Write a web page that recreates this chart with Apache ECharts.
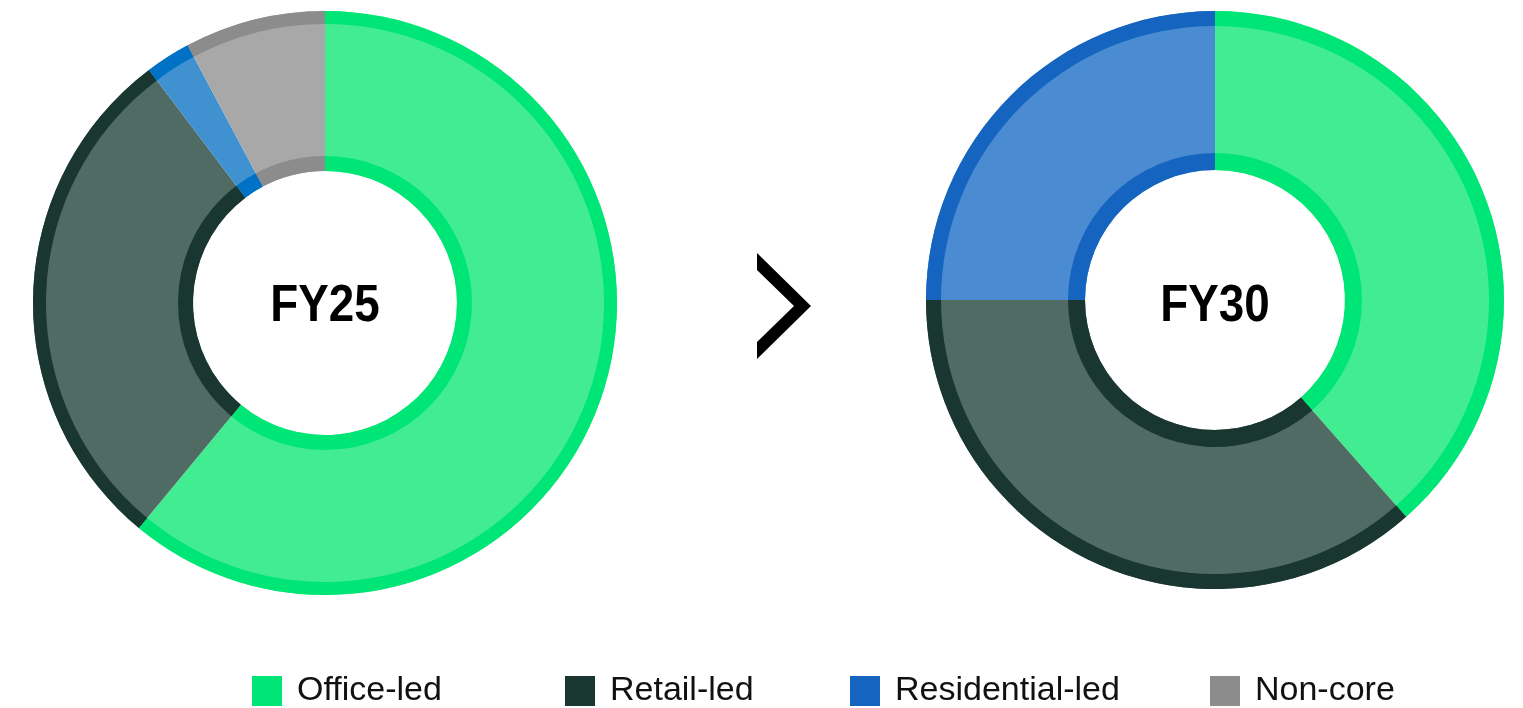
<!DOCTYPE html>
<html>
<head>
<meta charset="utf-8">
<script src="https://cdn.jsdelivr.net/npm/echarts@6/dist/echarts.min.js"></script>
<style>
html,body{margin:0;padding:0;background:#fff;}
#chart{width:1523px;height:708px;}
</style>
</head>
<body>
<div id="chart"></div>
<script>
// ---- data ----
const categories = ['Office-led', 'Retail-led', 'Residential-led', 'Non-core'];
const fy25Values = [61.0, 28.7, 2.5, 7.8];
const fy30Values = [38.5, 36.5, 25.0, 0];
const chartTitles = ['FY25', 'FY30'];

// ---- styles ----
const borderColors = ['#00E676', '#1A3631', '#0072C6', '#8C8C8C'];
const fillColorsL = ['#42ED92', '#4F6B63', '#3F91D0', '#A8A8A8'];
const borderColorsR = ['#00E676', '#1A3631', '#1565C0', '#8C8C8C'];
const fillColorsR = ['#42ED92', '#4F6B63', '#4A8BD1', '#A8A8A8'];
const legendColors = ['#00E676', '#1A3631', '#1565C0', '#8C8C8C'];

function makeData(values, colors) {
  const out = [];
  values.forEach((v, i) => {
    if (v > 0) out.push({ name: categories[i], value: v, itemStyle: { color: colors[i] } });
  });
  return out;
}

function donut(values, fills, borders, center, rIn, rOut, band) {
  const base = {
    type: 'pie', center: center, startAngle: 90, clockwise: true,
    label: { show: false }, labelLine: { show: false },
    emphasis: { disabled: true }, silent: true, animation: false,
    itemStyle: { borderWidth: 0 }
  };
  return [
    Object.assign({}, base, { radius: [rIn, rOut], data: makeData(values, fills) }),
    Object.assign({}, base, { radius: [rOut - band, rOut], data: makeData(values, borders) }),
    Object.assign({}, base, { radius: [rIn, rIn + band + 2], data: makeData(values, borders) })
  ];
}

const legendLefts = [252, 565, 850, 1210];
const legends = categories.map((c, i) => ({
  data: [{ name: c, itemStyle: { color: legendColors[i] } }],
  left: legendLefts[i], top: 674, padding: 0,
  icon: 'rect', itemWidth: 30, itemHeight: 30,
  selectedMode: false,
  textStyle: { fontFamily: 'Liberation Sans', fontSize: 34, color: '#111', padding: [0, 0, 0, 10] }
}));

const chart = echarts.init(document.getElementById('chart'), null, { renderer: 'canvas' });
chart.setOption({
  backgroundColor: '#fff',
  animation: false,
  legend: legends,
  series: [].concat(
    donut(fy25Values, fillColorsL, borderColors, [325, 303], 132, 292, 13),
    donut(fy30Values, fillColorsR, borderColorsR, [1215, 300], 130, 289, 15)
  ),
  graphic: [
    { type: 'text', x: 325, y: 307, scaleX: 0.88, style: { text: chartTitles[0], font: 'bold 52px "Liberation Sans"', fill: '#000', textAlign: 'center', textVerticalAlign: 'middle' } },
    { type: 'text', x: 1215, y: 307, scaleX: 0.88, style: { text: chartTitles[1], font: 'bold 52px "Liberation Sans"', fill: '#000', textAlign: 'center', textVerticalAlign: 'middle' } },
    { type: 'polygon', shape: { points: [[757, 253], [811, 306], [757, 359], [757, 342], [794, 306], [757, 270]] }, style: { fill: '#000' } }
  ]
});
</script>
</body>
</html>
